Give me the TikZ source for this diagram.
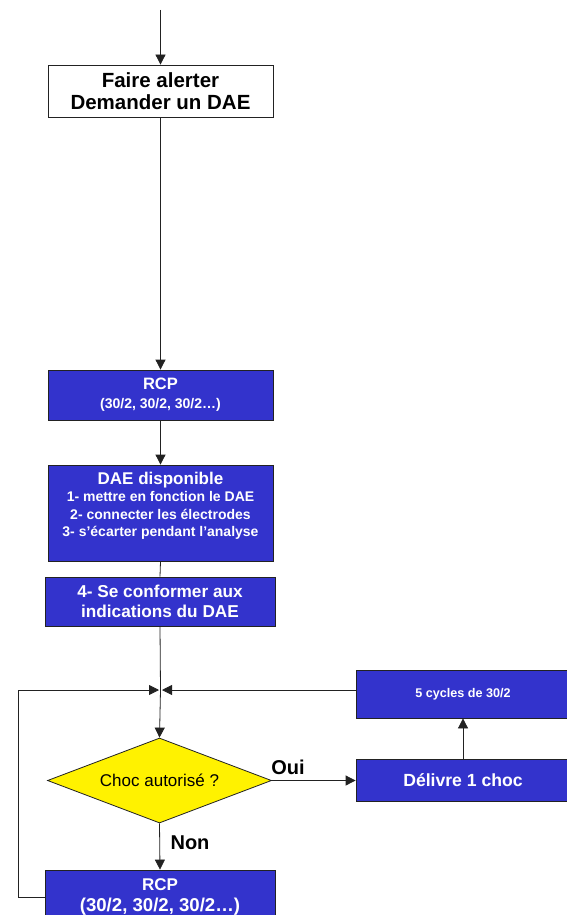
\documentclass[tikz,border=0pt]{standalone}
\usepackage{fontspec}
\setmainfont{Liberation Sans}
\usetikzlibrary{arrows.meta,shapes.geometric}
\definecolor{bluebox}{HTML}{3333CC}
\definecolor{lin}{HTML}{222222}
\newcommand{\fs}[2]{\fontsize{#1}{#2}\selectfont}
\tikzset{
  bluebox/.style={draw=lin, line width=0.8pt, fill=bluebox, text=white, align=center, inner sep=0pt},
  whitebox/.style={draw=lin, line width=0.8pt, fill=white, text=black, align=center, inner sep=0pt},
  conn/.style={draw=lin, line width=0.8pt},
  arr/.style={conn, -{Triangle[length=10pt,width=10pt]}},
  lbl/.style={font=\bfseries\fs{20}{22}, inner sep=0pt}
}
\begin{document}
\begin{tikzpicture}[x=1pt,y=-1pt]
\useasboundingbox (0,0) rectangle (567,915);
\fill[white] (0,0) rectangle (567,915);

\coordinate (start) at (160.5,10);
\node[whitebox, font=\bfseries\fs{20.5}{22}, minimum width=225pt, minimum height=52pt] (faire) at (160.5,91)
  {Faire alerter\\Demander un DAE};

\node[bluebox, font=\bfseries\fs{16.5}{19}, minimum width=225pt, minimum height=50pt] (rcp1) at (160.5,395)
  {RCP\\\fontsize{14}{19}\selectfont(30/2, 30/2, 30/2…)};

\node[bluebox, font=\bfseries\fs{14}{17.5}, minimum width=225pt, minimum height=96pt] (dae) at (160.5,513)
  {\fontsize{17}{17.5}\selectfont DAE disponible\\1- mettre en fonction le DAE\\
   2- connecter les électrodes\\3- s’écarter pendant l’analyse\\\mbox{}};

\node[bluebox, font=\bfseries\fs{17.2}{20.5}, minimum width=230pt, minimum height=49pt] (conf) at (160,601.5)
  {4- Se conformer aux\\indications du DAE};

\coordinate (J) at (160.5,690);

\node[shape=diamond, draw=lin, line width=0.8pt, fill=yellow, font=\fs{17}{20}, minimum width=224pt, minimum height=85pt, inner sep=0pt, aspect=2.6]
  (choc) at (159.5,780.5) {Choc autorisé ?};

\node[bluebox, font=\bfseries\fs{12.6}{15}, minimum width=214pt, minimum height=48pt] (cycles) at (463,694)
  {5 cycles de 30/2};

\node[bluebox, font=\bfseries\fs{17.6}{20}, minimum width=214pt, minimum height=42pt] (delivre) at (463,780.5)
  {Délivre 1 choc};

\node[bluebox, font=\bfseries\fs{18.6}{21}, minimum width=230pt, minimum height=54pt] (rcp2) at (160,897)
  {\fontsize{17}{21}\selectfont RCP\\(30/2, 30/2, 30/2…)};

\node[lbl] (oui) at (288,767) {Oui};
\node[lbl] (non) at (190,843) {Non};

\draw[arr] (start) -- (faire.north);
\draw[arr] (faire.south) -- (rcp1.north);
\draw[arr] (rcp1.south) -- (dae.north);
\draw[conn] (dae.south) -- (conf.north);
\draw[conn] (conf.south) -- (J);
\draw[arr] (J) -- (choc.north);
\draw[arr] (choc.east) -- (delivre.west);
\draw[arr] (delivre.north) -- (cycles.south);
\draw[arr, shorten >=1.5pt] (cycles.west |- J) -- (J);
\draw[arr, shorten >=1.5pt] (rcp2.west) -| (18,690) -- (J);
\draw[arr] (choc.south) -- (rcp2.north);
\end{tikzpicture}
\end{document}
